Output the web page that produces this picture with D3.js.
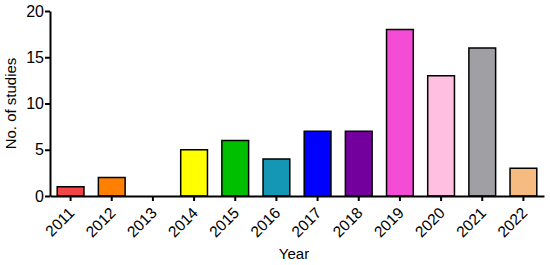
<!DOCTYPE html>
<html>
<head>
<meta charset="utf-8">
<script src="https://cdn.jsdelivr.net/npm/d3@7"></script>
<style>
  body { margin: 0; background: #fff; }
  text { font-family: "Liberation Sans", Arial, sans-serif; fill: #000; }
</style>
</head>
<body>
<script>
// dimensiones
const WIDTH = 550;
const HEIGHT = 265;
let margin = {top: 11, right: 6, bottom: 69, left: 50},
    width = WIDTH - margin.left - margin.right,
    height = HEIGHT - margin.top - margin.bottom;

// datos
const years = ["2011", "2012", "2013", "2014", "2015", "2016", "2017", "2018", "2019", "2020", "2021", "2022"];
const studies = [1, 2, 0, 5, 6, 4, 7, 7, 18, 13, 16, 3];
const barColors = ["#f24646", "#ff8000", "#ffffff", "#ffff00", "#00bf00", "#1497b5",
                   "#0000ff", "#73009c", "#f54cd6", "#ffbfe0", "#a0a0a4", "#f5bb80"];
const yTicks = [0, 5, 10, 15, 20];

let svg = d3.select("body").append("svg")
    .attr("width", WIDTH)
    .attr("height", HEIGHT);

let chart = svg.append("g")
    .attr("transform", "translate(" + margin.left + "," + margin.top + ")");

let xScale = d3.scaleBand()
    .domain(years)
    .range([0, width])
    .paddingInner(0.35)
    .paddingOuter(0.175);

let yScale = d3.scaleLinear()
    .domain([0, 20])
    .range([height, 0]);

// barras
chart.selectAll("rect.bar")
    .data(years.map((y, i) => ({year: y, value: studies[i], color: barColors[i]})))
    .enter().append("rect")
    .attr("class", "bar")
    .filter(d => d.value > 0)
    .attr("x", d => xScale(d.year))
    .attr("y", d => yScale(d.value))
    .attr("width", xScale.bandwidth())
    .attr("height", d => height - yScale(d.value))
    .attr("fill", d => d.color)
    .attr("stroke", "#000")
    .attr("stroke-width", 1.5);

// ejes
let xAxis = chart.append("g")
    .attr("transform", "translate(0," + height + ")")
    .call(d3.axisBottom(xScale).tickSize(5).tickSizeOuter(0));

xAxis.selectAll("text")
    .attr("font-size", 15.5)
    .attr("text-anchor", "end")
    .attr("x", 0)
    .attr("y", 0)
    .attr("dx", 0)
    .attr("dy", "0.35em")
    .attr("transform", "translate(1,14) rotate(-45)");

let yAxis = chart.append("g")
    .call(d3.axisLeft(yScale).tickValues(yTicks).tickSize(5).tickSizeOuter(0));

yAxis.selectAll("text")
    .attr("font-size", 16)
    .attr("x", -6);

chart.selectAll(".domain, .tick line")
    .attr("stroke", "#000")
    .attr("stroke-width", 2);

// titulos
chart.append("text")
    .attr("transform", "rotate(-90)")
    .attr("x", -height / 2)
    .attr("y", -34)
    .style("text-anchor", "middle")
    .attr("font-size", 15)
    .text("No. of studies");

chart.append("text")
    .attr("x", 294 - margin.left)
    .attr("y", 259 - margin.top)
    .style("text-anchor", "middle")
    .attr("font-size", 15)
    .text("Year");
</script>
</body>
</html>
